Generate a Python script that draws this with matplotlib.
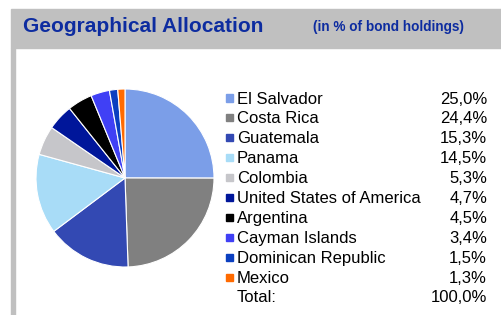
import matplotlib.pyplot as plt
from matplotlib.patches import Rectangle

countries = ['El Salvador', 'Costa Rica', 'Guatemala', 'Panama', 'Colombia',
             'United States of America', 'Argentina', 'Cayman Islands',
             'Dominican Republic', 'Mexico']
shares = [25.0, 24.4, 15.3, 14.5, 5.3, 4.7, 4.5, 3.4, 1.5, 1.3]
labels = ['25,0%', '24,4%', '15,3%', '14,5%', '5,3%', '4,7%', '4,5%', '3,4%', '1,5%', '1,3%']
colors = ['#7b9ee8', '#808080', '#3349b3', '#a8dcf7', '#c6c6ca',
          '#00169a', '#000000', '#4040f5', '#0b3fc0', '#ff6a00']

plt.rcParams['font.family'] = ['Liberation Sans', 'DejaVu Sans']

W, H = 501, 315
fig = plt.figure(figsize=(W / 100, H / 100), dpi=100)
fig.patch.set_facecolor('white')

def px(x, y):
    return x / W, 1 - y / H

# header band and left border
fig.patches.append(Rectangle(px(11, 48), (W - 11) / W, 39 / H,
                             transform=fig.transFigure, color='#c0c0c0', zorder=0))
fig.patches.append(Rectangle(px(11, H), 4 / W, (H - 48) / H,
                             transform=fig.transFigure, color='#c0c0c0', zorder=0))

fig.text(*px(23, 27), 'Geographical Allocation', color='#0d2ca0',
         fontsize=15, fontweight='bold', va='center')
fig.text(*px(313, 27), '(in % of bond holdings)', color='#0d2ca0',
         fontsize=9.8, fontweight='bold', va='center')

# pie
cx, cy, r = 125, 178, 89
ax = fig.add_axes([(cx - r) / W, 1 - (cy + r) / H, 2 * r / W, 2 * r / H])
ax.pie(shares, colors=colors, startangle=90, counterclock=False,
       wedgeprops=dict(edgecolor='white', linewidth=0.8))
ax.set_xlim(-1, 1)
ax.set_ylim(-1, 1)
ax.set_aspect('auto')
ax.axis('off')

# legend table
y0, dy = 98, 19.9
fs = 12
for i, (c, v, col) in enumerate(zip(countries, labels, colors)):
    y = y0 + i * dy
    fig.patches.append(Rectangle(px(226, y + 3.5), 7 / W, 7 / H,
                                 transform=fig.transFigure, color=col))
    fig.text(*px(237, y + 1), c, fontsize=fs, va='center', color='black')
    fig.text(*px(487, y + 1), v, fontsize=fs, va='center', ha='right', color='black')
y = y0 + 10 * dy
fig.text(*px(237, y + 1), 'Total:', fontsize=fs, va='center', color='black')
fig.text(*px(487, y + 1), '100,0%', fontsize=fs, va='center', ha='right', color='black')

fig.savefig('out.png', dpi=100)
